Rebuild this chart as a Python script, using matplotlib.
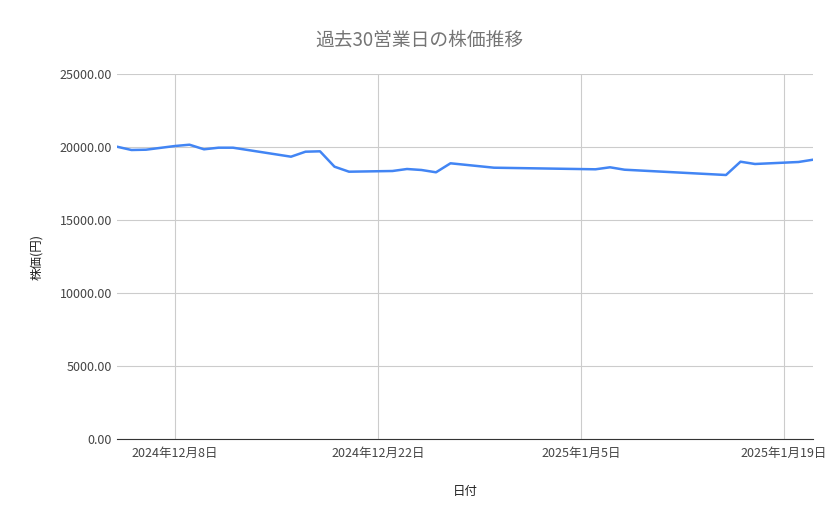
import matplotlib
matplotlib.use("Agg")
import matplotlib.pyplot as plt
import pandas as pd

plt.rcParams['font.family'] = ['Noto Sans CJK JP', 'DejaVu Sans']

dates = ["2024-12-04","2024-12-05","2024-12-06","2024-12-08","2024-12-09","2024-12-10","2024-12-11","2024-12-12",
         "2024-12-16","2024-12-17","2024-12-18","2024-12-19","2024-12-20","2024-12-23","2024-12-24","2024-12-25",
         "2024-12-26","2024-12-27","2024-12-30","2025-01-06","2025-01-07","2025-01-08","2025-01-15","2025-01-16",
         "2025-01-17","2025-01-20","2025-01-21"]
prices = [20020,19795,19815,20068,20157,19842,19952,19952,19336,19678,19705,18651,18308,18356,18493,18425,
          18267,18884,18582,18473,18610,18445,18082,18993,18836,18973,19130]
tick_dates = ["2024-12-08","2024-12-22","2025-01-05","2025-01-19"]

x = pd.to_datetime(dates)
fig = plt.figure(figsize=(8.39,5.19), dpi=100)
ax = fig.add_axes([117/839, 1-439/519, (813-117)/839, (439-74)/519])
ax.plot(x, prices, color='#4285f4', lw=1.8)
ax.set_xlim(pd.Timestamp("2024-12-04"), pd.Timestamp("2025-01-21"))
ax.set_ylim(0, 25000)
ax.set_yticks(range(0, 25001, 5000))
ax.set_yticklabels([f"{v:.2f}" for v in range(0, 25001, 5000)])
tk = pd.to_datetime(tick_dates)
ax.set_xticks(tk)
ax.set_xticklabels([f"{d.year}年{d.month}月{d.day}日" for d in tk])
ax.grid(True, color='#cccccc', lw=0.8)
for s in ['top','right','left']:
    ax.spines[s].set_visible(False)
ax.spines['bottom'].set_color('#333333')
ax.tick_params(length=0, colors='#444444', labelsize=9)
ax.tick_params(axis='x', pad=6)
ax.set_xlabel("日付", fontsize=9, color='#222222', labelpad=18)
ax.set_ylabel("株価(円)", fontsize=9, color='#222222', labelpad=12)
fig.suptitle("過去30営業日の株価推移", y=1-40/519, va='center', fontsize=13.5, color='#757575')
fig.savefig("out.png", dpi=100)
